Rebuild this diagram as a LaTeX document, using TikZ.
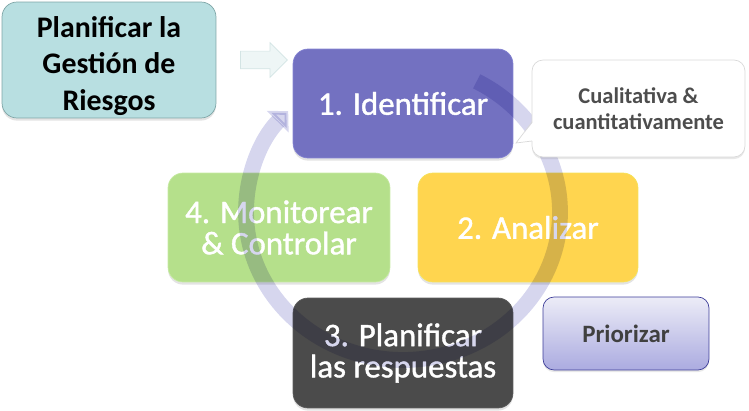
\documentclass[tikz,border=0pt]{standalone}
\usepackage{fontspec}
\setmainfont{Carlito}
\newfontfamily\pasofont{Carlito}[FakeBold=1.2]
\usetikzlibrary{shapes.arrows,arrows.meta,shadows}

\definecolor{gestfill}{HTML}{B8DFE1}
\definecolor{gestline}{HTML}{7FA6A7}
\definecolor{identfill}{HTML}{7371C1}
\definecolor{identline}{HTML}{8584D2}
\definecolor{analfill}{HTML}{FFD54F}
\definecolor{analline}{HTML}{F6E35A}
\definecolor{monfill}{HTML}{B5E08B}
\definecolor{monline}{HTML}{C6EAA2}
\definecolor{planfill}{HTML}{4B4B4B}
\definecolor{planline}{HTML}{5E5E5E}
\definecolor{notaline}{HTML}{D9D9D9}
\definecolor{notatext}{HTML}{4D4D4D}
\definecolor{priotop}{HTML}{ECECF7}
\definecolor{priobot}{HTML}{ABABE0}
\definecolor{prioline}{HTML}{3C3C98}
\definecolor{ciclo}{HTML}{D6D6EE}
\definecolor{flechafill}{HTML}{EEF6F6}
\definecolor{flechaline}{HTML}{D3E4E4}

\begin{document}
\begin{tikzpicture}[x=0.02cm,y=-0.02cm,
    paso/.style={draw, rounded corners=0.3cm, align=center, text=white, inner sep=0pt,
      minimum width=4.4cm, minimum height=2.18cm,
      font=\pasofont\fontsize{18.7}{17.8}\selectfont,
      drop shadow={opacity=0.22,shadow xshift=0pt,shadow yshift=-1.5pt}},
    nota/.style={draw, rounded corners=0.22cm, align=center, inner sep=0pt,
      font=\bfseries\fontsize{12.8}{15}\selectfont, text=notatext,
      drop shadow={opacity=0.18,shadow xshift=0pt,shadow yshift=-1.2pt}}]
  \useasboundingbox (0,0) rectangle (749,411);

  % pasos del ciclo
  \node[paso, fill=gestfill, draw=gestline, minimum width=4.28cm,
    minimum height=2.32cm] (gestion) at (109,60) {};
  \node[text=black, align=center, font=\bfseries\fontsize{17}{20.7}\selectfont]
    (gestiontxt) at (109,66) {Planificar la\\Gestión de\\Riesgos};
  \node[paso, fill=identfill, draw=identline] (ident) at (403,103.5) {1. Identificar};
  \node[paso, fill=analfill, draw=analline] (anal) at (528,227.5) {2. Analizar};
  \node[paso, fill=planfill, draw=planline, minimum height=2.2cm] (plan) at (403,353)
    {3. Planificar\\las respuestas};
  \node[paso, fill=monfill, draw=monline, minimum width=4.44cm] (monit) at (279,227.5)
    {4. Monitorear\\\& Controlar};

  % flecha de entrada
  \node[single arrow, fill=flechafill, draw=flechaline, inner sep=0.17cm,
    single arrow head extend=0.17cm, minimum height=0.94cm] (entrada) at (259.5,60) {};

  % anillo del ciclo
  \begin{scope}[blend mode=multiply]
    \draw[ciclo, line width=9pt, -{Triangle[width=17pt,length=8.5pt]}]
      (403,212) ++(62:3.14cm and 2.96cm)
      arc[start angle=62, end angle=-223, x radius=3.14cm, y radius=2.96cm];
  \end{scope}

  % notas
  \node[nota, fill=white, draw=notaline, minimum width=4.26cm, minimum height=1.94cm]
    (cuali) at (638.5,108.5) {Cualitativa \&\\cuantitativamente};
  \fill[white] (534,121) -- (516,143) -- (534,141) -- cycle;
  \draw[notaline] (532,122) -- (516,143) -- (532,141);
  \node[nota, top color=priotop, bottom color=priobot, draw=prioline,
    minimum width=3.32cm, minimum height=1.46cm, font=\bfseries\fontsize{14.2}{16}\selectfont,
    text=black!75] (prior) at (626,333.5) {Priorizar};
\end{tikzpicture}
\end{document}
